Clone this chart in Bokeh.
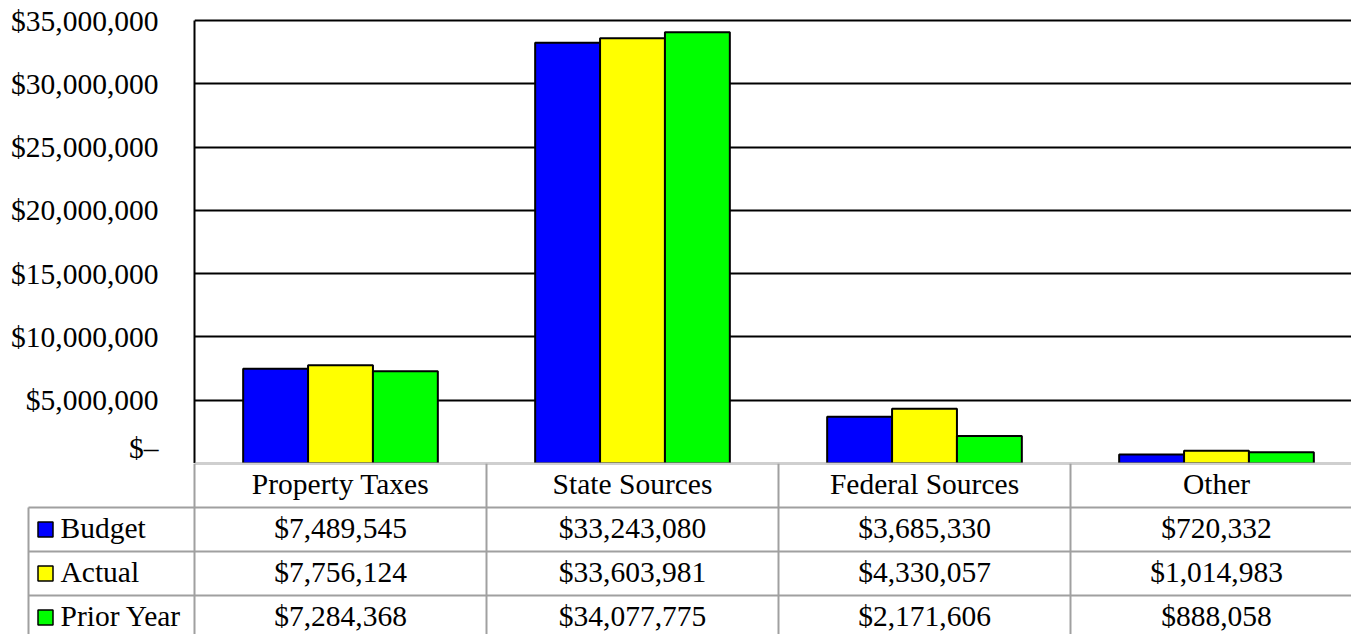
from bokeh.plotting import figure
from bokeh.layouts import column
from bokeh.models import Range1d, FixedTicker, ColumnDataSource, Span
from bokeh.core.properties import value
from bokeh.embed import file_html
from bokeh.resources import INLINE

# ---------------- data ----------------
categories = ["Property Taxes", "State Sources", "Federal Sources", "Other"]
series_names = ["Budget", "Actual", "Prior Year"]
budget = [7489545, 33243080, 3685330, 720332]
actual = [7756124, 33603981, 4330057, 1014983]
prior_year = [7284368, 34077775, 2171606, 888058]
series_colors = ["#0000FF", "#FFFF00", "#00FF00"]
y_ticks = [0, 5000000, 10000000, 15000000, 20000000, 25000000, 30000000, 35000000]

series_values = [budget, actual, prior_year]

# ---------------- layout constants ----------------
W = 1351          # canvas width
COL = 292.0       # pixels per category column
LEFT = 194        # frame left (canvas px)
PLOT_H = 443      # pixels from 0 to top tick
HEAD = 3          # extra px above the top tick inside the frame
TOP = 20 - HEAD   # frame top (canvas px)
CHART_H = 463     # chart figure height
TABLE_H = 171     # table figure height
ROW = 44.0        # table row height (px)
FONT = "Liberation Serif"
FS = "29.5px"
GRAY = "#a0a0a0"

x_end = (W - LEFT) / COL
y_top = y_ticks[-1] + HEAD * (y_ticks[-1] - y_ticks[0]) / PLOT_H

# ---------------- chart ----------------
p = figure(width=W, height=CHART_H,
           x_range=Range1d(0, x_end), y_range=Range1d(y_ticks[0], y_top),
           x_axis_type=None, output_backend="svg", toolbar_location=None,
           min_border_left=LEFT, min_border_top=TOP, min_border_right=0, min_border_bottom=0,
           frame_align=False)
p.outline_line_color = None
p.background_fill_color = "white"
p.border_fill_color = "white"

p.yaxis.ticker = FixedTicker(ticks=y_ticks)
p.yaxis.major_label_overrides = {t: ("$\u2013" if t == 0 else f"${t:,}") for t in y_ticks}
p.yaxis.major_label_text_font = FONT
p.yaxis.major_label_text_font_size = FS
p.yaxis.major_label_text_color = "#000000"
p.yaxis.major_tick_line_color = None
p.yaxis.major_tick_out = 0
p.yaxis.major_tick_in = 0
p.yaxis.minor_tick_line_color = None
p.yaxis.axis_line_color = "#000000"
p.yaxis.axis_line_width = 2
p.yaxis.major_label_standoff = 36
p.yaxis.bounds = (y_ticks[0], y_ticks[-1])

p.ygrid.ticker = FixedTicker(ticks=y_ticks[1:])
p.ygrid.grid_line_color = "#000000"
p.ygrid.grid_line_width = 2

bar_w = 2.0 / 9.0
offsets = [-bar_w, 0.0, bar_w]
for vals, color, off in zip(series_values, series_colors, offsets):
    src = ColumnDataSource(dict(x=[i + 0.5 + off for i in range(len(categories))], top=vals))
    p.vbar(x="x", top="top", bottom=0, width=bar_w, source=src,
           fill_color=color, line_color="#000000", line_width=2)

p.add_layout(Span(location=0, dimension="width", line_color=GRAY, line_width=2))

# ---------------- data table ----------------
t = figure(width=W, height=TABLE_H,
           x_range=Range1d(-LEFT / COL, x_end), y_range=Range1d(-TABLE_H / ROW, 0),
           x_axis_type=None, y_axis_type=None, output_backend="svg", toolbar_location=None,
           min_border_left=0, min_border_top=0, min_border_right=0, min_border_bottom=0,
           frame_align=False)
t.outline_line_color = None
t.xgrid.visible = False
t.ygrid.visible = False
t.background_fill_color = "white"
t.border_fill_color = "white"

legend_left = (28 - LEFT) / COL
bottom = -TABLE_H / ROW - 1
n_rows = len(series_names)

x0s, y0s, x1s, y1s = [], [], [], []
x0s.append(0); y0s.append(0); x1s.append(x_end); y1s.append(0)
for r in range(1, n_rows + 1):
    x0s.append(legend_left); y0s.append(-r); x1s.append(x_end); y1s.append(-r)
x0s.append(legend_left); y0s.append(-1); x1s.append(legend_left); y1s.append(bottom)
for i in range(len(categories)):
    x0s.append(i); y0s.append(0); x1s.append(i); y1s.append(bottom)
t.segment(x0=x0s, y0=y0s, x1=x1s, y1=y1s, line_color=GRAY, line_width=2)

t.text(x=[i + 0.5 for i in range(len(categories))], y=[-0.5] * len(categories), text=categories,
       text_font=value(FONT), text_font_size=value(FS), text_align="center",
       text_baseline="middle", text_color="#000000", y_offset=-2)

cx, cy, ct = [], [], []
for r, vals in enumerate(series_values):
    for i, v in enumerate(vals):
        cx.append(i + 0.5); cy.append(-(r + 1.5)); ct.append(f"${v:,}")
t.text(x=cx, y=cy, text=ct, text_font=value(FONT), text_font_size=value(FS),
       text_align="center", text_baseline="middle", text_color="#000000", y_offset=-2)

t.scatter(x=[(45 - LEFT) / COL] * n_rows, y=[-(r + 1.5) for r in range(n_rows)], marker="square",
          size=15, fill_color=series_colors, line_color="#000000", line_width=1.5)
t.text(x=[(60 - LEFT) / COL] * n_rows, y=[-(r + 1.5) for r in range(n_rows)], text=series_names,
       text_font=value(FONT), text_font_size=value(FS), text_align="left",
       text_baseline="middle", text_color="#000000", y_offset=-2)

layout = column(p, t, spacing=0)
open("out.html", "w").write(file_html(layout, INLINE))
